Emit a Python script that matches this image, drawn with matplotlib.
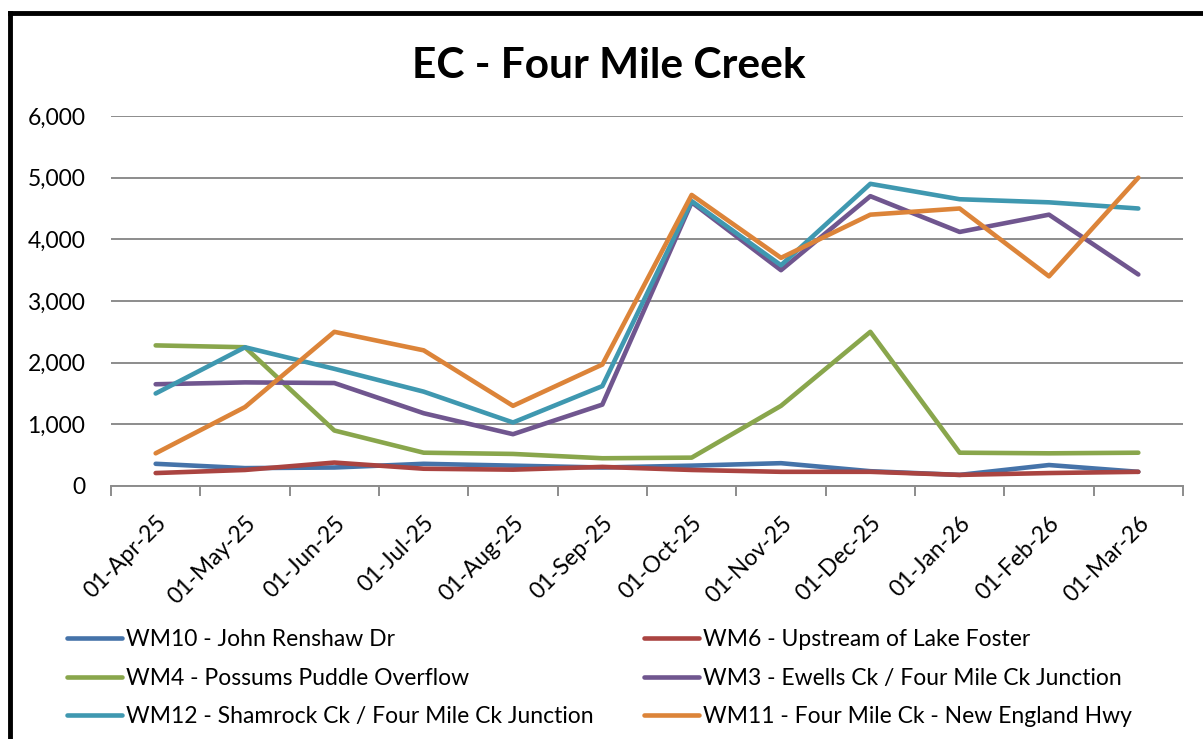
import matplotlib
matplotlib.use("Agg")
import matplotlib.pyplot as plt
from matplotlib.lines import Line2D
import numpy as np

months = ["01-Apr-25", "01-May-25", "01-Jun-25", "01-Jul-25", "01-Aug-25", "01-Sep-25",
          "01-Oct-25", "01-Nov-25", "01-Dec-25", "01-Jan-26", "01-Feb-26", "01-Mar-26"]

wm10 = [360, 290, 300, 360, 330, 300, 330, 370, 240, 180, 340, 230]
wm6 = [210, 260, 380, 280, 265, 310, 260, 230, 230, 180, 210, 230]
wm4 = [2280, 2250, 900, 540, 520, 450, 460, 1300, 2500, 540, 530, 540]
wm3 = [1650, 1680, 1670, 1180, 840, 1320, 4600, 3500, 4700, 4120, 4400, 3430]
wm12 = [1500, 2250, 1900, 1530, 1030, 1620, 4620, 3580, 4900, 4650, 4600, 4500]
wm11 = [530, 1280, 2500, 2200, 1300, 1970, 4720, 3700, 4400, 4500, 3400, 5000]

series = [
    ("WM10 - John Renshaw Dr", wm10, "#4573A9"),
    ("WM6 - Upstream of Lake Foster", wm6, "#AA4441"),
    ("WM4 - Possums Puddle Overflow", wm4, "#89A64C"),
    ("WM3 - Ewells Ck / Four Mile Ck Junction", wm3, "#70568F"),
    ("WM12 - Shamrock Ck / Four Mile Ck Junction", wm12, "#3F98B0"),
    ("WM11 - Four Mile Ck - New England Hwy", wm11, "#DC8439"),
]

plt.rcParams["font.family"] = ["Lato", "DejaVu Sans"]

W, H = 1203, 739
fig = plt.figure(figsize=(W / 100, H / 100), dpi=100)
ax = fig.add_axes([111 / W, 1 - 486 / H, 1072 / W, 370 / H])

x = np.arange(len(months))
handles = {}
for name, vals, col in series:
    ln, = ax.plot(x, vals, color=col, lw=3.3, solid_capstyle="round",
                  solid_joinstyle="round", label=name)
    handles[name] = ln

ax.set_xlim(-0.5, len(months) - 0.5)
ax.set_ylim(0, 6000)
ax.set_yticks(np.arange(0, 6001, 1000))
ax.set_yticklabels([f"{v:,}" for v in range(0, 6001, 1000)], fontsize=16.5)
ax.yaxis.grid(True, color="#8c8c8c", lw=1.4)
ax.set_axisbelow(True)
ax.tick_params(axis="y", length=0, pad=18.5)

ax.set_xticks(x)
ax.set_xticklabels(months, rotation=45, ha="right", va="top",
                   rotation_mode="anchor", fontsize=16.5)
ax.tick_params(axis="x", which="major", length=0, pad=19)
ax.set_xticks(np.arange(-0.5, len(months)), minor=True)
ax.tick_params(axis="x", which="minor", length=7, width=1.4, color="#8c8c8c")

for s in ["top", "right", "left"]:
    ax.spines[s].set_visible(False)
ax.spines["bottom"].set_color("#8c8c8c")
ax.spines["bottom"].set_linewidth(1.4)

fig.text(609 / W, 1 - 78 / H, "EC - Four Mile Creek", ha="center", va="baseline",
         fontsize=30.5, fontweight="bold")

# legend: two columns, filled column by column
order = [0, 2, 4, 1, 3, 5]
leg = fig.legend([handles[series[i][0]] for i in order], [series[i][0] for i in order],
                 ncol=2, loc="upper left", bbox_to_anchor=(58 / W, 1 - 620 / H),
                 frameon=False, fontsize=16.5, handlelength=2.4, handletextpad=0.18,
                 columnspacing=2.2, labelspacing=0.76, borderaxespad=0)

# outer chart frame (left and top edges)
fig.add_artist(Line2D([9.5 / W, 9.5 / W], [0, 1 - 12.5 / H], color="black", lw=3.5,
                      transform=fig.transFigure, solid_capstyle="projecting"))
fig.add_artist(Line2D([9.5 / W, 1], [1 - 12.5 / H, 1 - 12.5 / H], color="black", lw=3.5,
                      transform=fig.transFigure, solid_capstyle="projecting"))

fig.savefig("out.png", dpi=100)
